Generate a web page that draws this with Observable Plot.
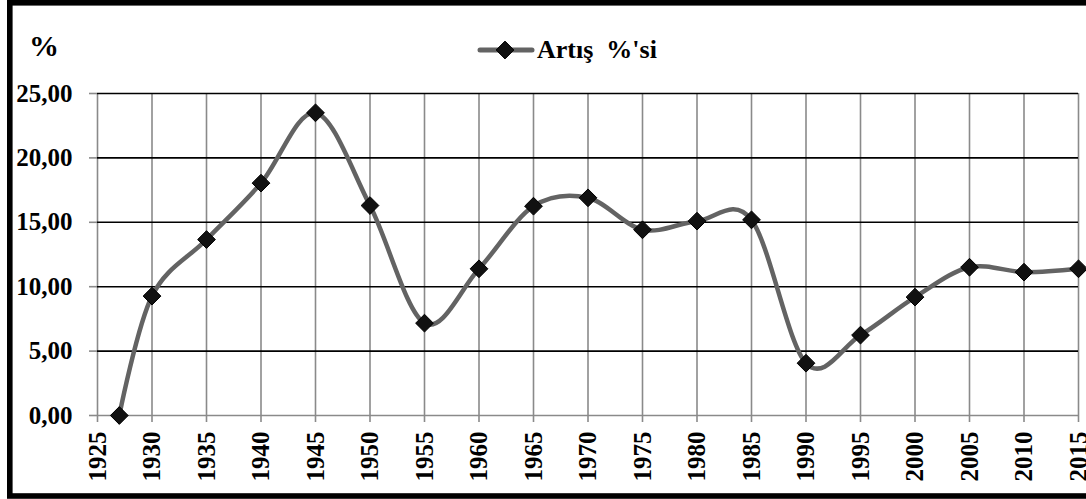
<!DOCTYPE html>
<html>
<head>
<meta charset="utf-8">
<script src="https://cdn.jsdelivr.net/npm/d3@7"></script>
<script src="https://cdn.jsdelivr.net/npm/@observablehq/plot@0.6"></script>
<style>
  html, body { margin: 0; padding: 0; background: white; }
</style>
</head>
<body>
<div id="chart"></div>
<script>
const years = [1927, 1930, 1935, 1940, 1945, 1950, 1955, 1960, 1965, 1970, 1975, 1980, 1985, 1990, 1995, 2000, 2005, 2010, 2015];
const values = [0.00, 9.27, 13.66, 18.04, 23.50, 16.30, 7.17, 11.39, 16.25, 16.90, 14.42, 15.09, 15.19, 4.06, 6.24, 9.19, 11.51, 11.13, 11.39];
const xTicks = [1925, 1930, 1935, 1940, 1945, 1950, 1955, 1960, 1965, 1970, 1975, 1980, 1985, 1990, 1995, 2000, 2005, 2010, 2015];
const yTicks = [0, 5, 10, 15, 20, 25];
const seriesName = "Artış  %'si";
const yTitle = "%";

const data = years.map((y, i) => ({year: y, value: values[i]}));
const fmt = d => d.toFixed(2).replace(".", ",");

const W = 1086, H = 499;
const chart = Plot.plot({
  width: W,
  height: H,
  marginLeft: 97,
  marginRight: 8,
  marginTop: 93,
  marginBottom: 84,
  style: {
    fontFamily: "'Liberation Serif', 'Times New Roman', serif",
    fontSize: "25px",
    fontWeight: "bold",
    color: "black",
    background: "white"
  },
  x: {domain: [1925, 2015]},
  y: {domain: [0, 25]},
  marks: [
    Plot.ruleX(xTicks, {stroke: "#8a8a8a", strokeWidth: 1.6}),
    Plot.ruleY(yTicks.filter(d => d > 0), {stroke: "black", strokeWidth: 1.6}),
    Plot.ruleY([0], {stroke: "#8a8a8a", strokeWidth: 1.6}),
    Plot.axisY({ticks: yTicks, tickFormat: fmt, tickSize: 8, tickPadding: 17, stroke: "#8a8a8a", fill: "black", label: null, strokeWidth: 1.6}),
    Plot.axisX({ticks: xTicks, tickFormat: d => String(d), tickSize: 7, tickPadding: 9, tickRotate: -90, stroke: "#8a8a8a", fill: "black", label: null, strokeWidth: 1.6}),
    Plot.line(data, {x: "year", y: "value", curve: "cardinal", stroke: "#636363", strokeWidth: 4.5}),
    Plot.dot(data, {x: "year", y: "value", symbol: "diamond2", r: 8, fill: "#111", stroke: "black", strokeWidth: 1})
  ]
});

const svg = d3.select(chart);
// outer frame
svg.append("rect")
  .attr("x", 9.8).attr("y", 2.8)
  .attr("width", 1100).attr("height", 493.2)
  .attr("fill", "none").attr("stroke", "black").attr("stroke-width", 5.6);

// y title
svg.append("text")
  .attr("x", 29).attr("y", 56)
  .attr("text-anchor", "start")
  .attr("font-family", "'Liberation Serif', serif")
  .attr("font-size", 30).attr("font-weight", "bold")
  .text(yTitle);

// legend
const lg = svg.append("g");
lg.append("line")
  .attr("x1", 480).attr("x2", 532).attr("y1", 50).attr("y2", 50)
  .attr("stroke", "#636363").attr("stroke-width", 5).attr("stroke-linecap", "round");
lg.append("path")
  .attr("d", d3.symbol(d3.symbolDiamond2, Math.PI * 64)())
  .attr("transform", "translate(505,50)")
  .attr("fill", "#111").attr("stroke", "black");
lg.append("text")
  .attr("x", 537).attr("y", 58)
  .attr("text-anchor", "start")
  .attr("font-family", "'Liberation Serif', serif")
  .attr("font-size", 26).attr("font-weight", "bold")
  .style("white-space", "pre")
  .text(seriesName);

document.getElementById("chart").appendChild(chart);
</script>
</body>
</html>
